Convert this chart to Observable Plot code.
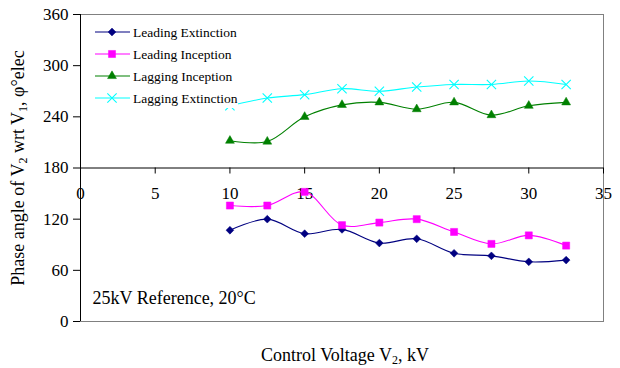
<!DOCTYPE html>
<html>
<head>
<meta charset="utf-8">
<script src="https://cdn.jsdelivr.net/npm/d3@7"></script>
<script src="https://cdn.jsdelivr.net/npm/@observablehq/plot@0.6"></script>
<style>
  html, body { margin: 0; padding: 0; background: white; }
  .serif { font-family: "Liberation Serif", "Times New Roman", serif; }
</style>
</head>
<body>
<div id="chart"></div>
<script>
// ---- data ----
const voltages = [10, 12.5, 15, 17.5, 20, 22.5, 25, 27.5, 30, 32.5];
const leadingExtinction = [107, 120, 103, 108, 92, 97, 80, 77, 70, 72];
const leadingInception  = [136, 136, 152, 113, 116, 120, 105, 91, 101, 89];
const laggingInception  = [212, 211, 240, 254, 257, 249, 257, 242, 253, 257];
const laggingExtinction = [253, 262, 266, 273, 270, 275, 278, 278, 282, 278];
const seriesNames = ["Leading Extinction", "Leading Inception", "Lagging Inception", "Lagging Extinction"];
const xTicks = [0, 5, 10, 15, 20, 25, 30, 35];
const yTicks = [0, 60, 120, 180, 240, 300, 360];
// label pieces: [text, isSubscript]
const yLabelParts = [["Phase angle of V", false], ["2", true], [" wrt V", false], ["1", true], [", \u03C6\u00B0elec", false]];
const xLabelParts = [["Control Voltage V", false], ["2", true], [", kV", false]];
const note = "25kV Reference, 20\u00B0C";

const FONT = "'Liberation Serif', 'Times New Roman', serif";
const styles = [
  {color: "#000080", symbol: "diamond2", r: 3.5, fill: true},
  {color: "#FF00FF", symbol: "square", r: 4, fill: true},
  {color: "#008000", symbol: "triangle", r: 3.3, fill: true},
  {color: "#00FFFF", symbol: "times", r: 4.3, fill: false}
];
const seriesValues = [leadingExtinction, leadingInception, laggingInception, laggingExtinction];
const tables = seriesValues.map(vals => voltages.map((v, i) => ({x: v, y: vals[i]})));

const seriesMarks = [];
tables.forEach((t, k) => {
  const s = styles[k];
  seriesMarks.push(Plot.line(t, {x: "x", y: "y", curve: "catmull-rom", stroke: s.color, strokeWidth: 1.1}));
  seriesMarks.push(Plot.dot(t, {x: "x", y: "y", symbol: s.symbol, r: s.r,
    fill: s.fill ? s.color : "none", stroke: s.color, strokeWidth: s.fill ? 0.5 : 1.1}));
});

const chart = Plot.plot({
  width: 620, height: 368,
  marginLeft: 80, marginRight: 17, marginTop: 14, marginBottom: 47,
  x: {domain: [0, 35], axis: null},
  y: {domain: [0, 360], axis: null},
  style: {fontFamily: FONT, fontSize: "17px", background: "white", color: "black"},
  marks: [
    Plot.frame({stroke: "#808080", strokeWidth: 1}),
    Plot.ruleX([0], {stroke: "black", strokeWidth: 1}),
    Plot.axisY(yTicks, {anchor: "left", tickSize: 7, tickPadding: 5, fontSize: 17, label: null, stroke: "black"}),
    Plot.ruleY([180], {stroke: "black", strokeWidth: 1}),
    Plot.ruleX(xTicks, {x: d => d, y1: 180, y2: 180, insetTop: 0, insetBottom: -6, stroke: "black"}),
    Plot.text(xTicks, {x: d => d, y: 180, dy: 26, text: d => String(d), fontSize: 17, lineAnchor: "middle"}),
    ...seriesMarks,
    Plot.text([note], {frameAnchor: "bottom-left", dx: 12, dy: -23, textAnchor: "start", fontSize: 18, lineAnchor: "middle"})
  ]
});

const svg = d3.select(chart);

// axis titles with true subscripts
function addLabel(parts, x, y, rotate) {
  const t = svg.append("text").attr("class", "serif")
    .attr("transform", `translate(${x},${y})` + (rotate ? ` rotate(${rotate})` : ""))
    .attr("text-anchor", "middle").style("font-size", "18px")
    .attr("fill", "black").attr("dy", "0.35em");
  parts.forEach(([txt, sub]) => {
    const ts = t.append("tspan").text(txt);
    if (sub) ts.style("font-size", "12px").attr("baseline-shift", "-25%");
  });
}
addLabel(yLabelParts, 18, 168, -90);
addLabel(xLabelParts, 345, 355, 0);

// legend inside plot, top-left
const lg = svg.append("g");
lg.append("rect").attr("x", 86).attr("y", 20).attr("width", 152).attr("height", 88).attr("fill", "white");
const symMap = {diamond2: d3.symbolDiamond2, square: d3.symbolSquare, triangle: d3.symbolTriangle, times: d3.symbolTimes};
seriesNames.forEach((name, k) => {
  const s = styles[k];
  const yy = 32 + k * 22;
  lg.append("line").attr("x1", 95).attr("x2", 130).attr("y1", yy).attr("y2", yy).attr("stroke", s.color).attr("stroke-width", 1.1);
  lg.append("path").attr("transform", `translate(112,${yy})`)
    .attr("d", d3.symbol(symMap[s.symbol], Math.PI * s.r * s.r)())
    .attr("fill", s.fill ? s.color : "none").attr("stroke", s.color).attr("stroke-width", s.fill ? 0.5 : 1.1);
  lg.append("text").attr("class", "serif").attr("x", 133).attr("y", yy).attr("dy", "0.35em")
    .style("font-size", "13.5px").attr("text-anchor", "start").attr("fill", "black").text(name);
});

document.getElementById("chart").appendChild(chart);
</script>
</body>
</html>
